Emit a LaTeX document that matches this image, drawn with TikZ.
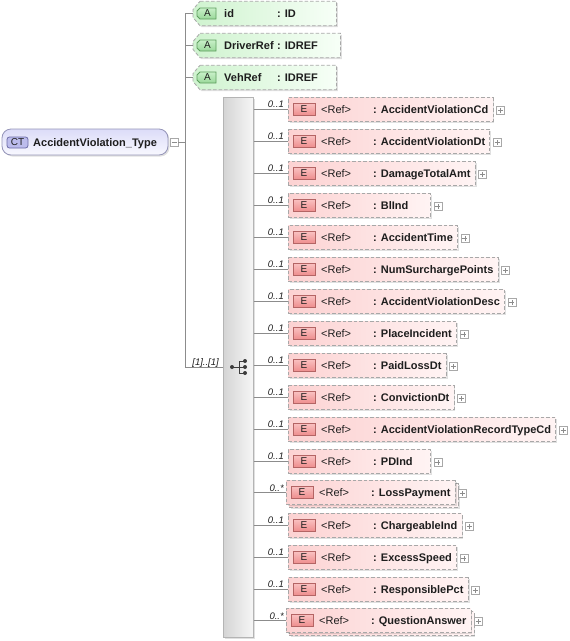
\documentclass[tikz,border=0pt]{standalone}
\usepackage{fontspec}
\setmainfont{Liberation Sans}
\usetikzlibrary{calc,shadows}
\pgfdeclarelayer{bg}
\pgfsetlayers{bg,main}
\definecolor{linec}{HTML}{8C8C8C}
\definecolor{boxline}{HTML}{A8A8A8}
\definecolor{elL}{HTML}{FCD2D2}
\definecolor{elR}{HTML}{FFF4F4}
\definecolor{atL}{HTML}{CFF3CF}
\definecolor{atR}{HTML}{F7FFF7}
\definecolor{ebT}{HTML}{F9C0C0}
\definecolor{ebB}{HTML}{EE8C8C}
\definecolor{ebD}{HTML}{B46464}
\definecolor{abT}{HTML}{C8F0C8}
\definecolor{abB}{HTML}{9AD89A}
\definecolor{abD}{HTML}{5E9E5E}
\definecolor{ctT}{HTML}{DCDCF8}
\definecolor{ctB}{HTML}{F8F8FF}
\definecolor{ctD}{HTML}{9494B8}
\definecolor{cbF}{HTML}{BCBCEC}
\definecolor{cbD}{HTML}{6A6AA6}
\definecolor{sqL}{HTML}{D4D4D4}
\definecolor{sqR}{HTML}{F6F6F6}
\definecolor{sqD}{HTML}{B4B4B4}
\definecolor{txtc}{HTML}{1E1E1E}
\definecolor{icon}{HTML}{3C3C3C}
\newcommand\mainsz{\fontsize{11}{13}\selectfont}
\begin{document}
\begin{tikzpicture}[x=1pt,y=-1pt,
  conn/.style={draw=linec, line width=0.8pt},
  txt/.style={inner sep=0pt, text=txtc, font=\mainsz},
  btxt/.style={inner sep=0pt, text=txtc, font=\mainsz\bfseries},
  mult/.style={inner sep=0pt, text=txtc, font=\fontsize{9.5}{11}\selectfont\itshape},
  softshadow/.style={drop shadow={shadow xshift=1.5pt, shadow yshift=-1.5pt, fill=black, opacity=0.12}},
  elbox/.style={draw=boxline, line width=0.8pt, dash pattern=on 3.5pt off 2pt,
     left color=elL, right color=elR, minimum height=24pt, inner sep=0pt, anchor=west, softshadow},
  ebadge/.style={draw=ebD, line width=0.8pt, top color=ebT, bottom color=ebB,
     minimum width=22pt, minimum height=12pt, inner sep=0pt, text=txtc,
     font=\fontsize{10}{11}\selectfont},
  attrarea/.style={minimum height=24pt, inner sep=0pt, anchor=west},
  attrshape/.style={draw=boxline, line width=0.8pt, dash pattern=on 3.5pt off 2pt,
     left color=atL, right color=atR, softshadow},
  abadge/.style={draw=abD, line width=0.8pt, top color=abT, bottom color=abB},
  plusbox/.style={draw=boxline, fill=white, line width=0.6pt, minimum size=8pt, inner sep=0pt},
  pm/.style={draw=linec, line width=0.6pt},
  seqbar/.style={draw=sqD, line width=1pt, left color=sqL, right color=sqR,
     minimum width=30pt, minimum height=540pt, inner sep=0pt, softshadow},
]
\useasboundingbox (0,0) rectangle (570,641);

% ---------- complex type ----------
\node[draw=ctD, line width=0.8pt, rounded corners=9pt, top color=ctT, bottom color=ctB,
      minimum width=166pt, minimum height=26pt, inner sep=0pt, softshadow] (ct) at (85,142) {};
\node[draw=cbD, line width=0.8pt, fill=cbF, rounded corners=2.5pt, minimum width=21pt,
      minimum height=11pt, inner sep=0pt, text=txtc, font=\fontsize{10}{11}\selectfont] (ctb) at (17.5,142.5) {CT};
\node[btxt, anchor=base west] (ctn) at (33,146) {AccidentViolation\_Type};
\node[plusbox] (ctm) at (174,142) {};
\draw[pm] ($(ctm.center)+(-2.5,0)$) -- ($(ctm.center)+(2.5,0)$);

% ---------- trunk ----------
\coordinate (tTop) at (185,13.5);
\coordinate (tBot) at (185,367);
\draw[conn] (tTop) -- (tBot);
\draw[conn] (ctm.east) -- (ctm.east -| tTop);

% ---------- attributes ----------
\foreach \an/\at/\ar [count=\i from 0] in {id/{: ID}/336, DriverRef/{: IDREF}/340, VehRef/{: IDREF}/336}{
  \pgfmathsetmacro\yc{13.5+32*\i}
  \pgfmathsetmacro\aw{\ar-193}
  \node[attrarea, minimum width=\aw] (at\i) at (193,\yc) {};
  \path[attrshape] ($(at\i.north west)+(7,0)$) -- (at\i.north east) -- (at\i.south east)
     -- ($(at\i.south west)+(7,0)$) -- ($(at\i.west)+(0,4)$) -- ($(at\i.west)+(0,-4)$) -- cycle;
  \path[abadge] (200,\yc-5.5) -- (216,\yc-5.5) -- (216,\yc+5.5) -- (200,\yc+5.5)
     -- (197,\yc+2.5) -- (197,\yc-2.5) -- cycle;
  \node[txt, font=\fontsize{10}{11}\selectfont] (ab\i) at (207.5,\yc) {A};
  \node[btxt, anchor=base west] (an\i) at (224,\yc+4) {\an};
  \node[btxt, anchor=base west] (aty\i) at (277,\yc+4) {\at};
  \draw[conn] (at\i.west -| tTop) -- (at\i.west);
}

% ---------- sequence ----------
\node[seqbar] (seq) at (238,367) {};
\draw[conn] (tBot) -- (seq.west);
\node[mult, anchor=base east] (seqm) at (219,365) {[1]..[1]};
\draw[icon, line width=0.9pt] (232,367) -- (239,367) (239,361) -- (239,373)
   (239,361) -- (245,361) (239,367) -- (245,367) (239,373) -- (245,373);
\fill[icon] (232,367) circle (2pt);
\fill[icon] (245,361) circle (2pt);
\fill[icon] (245,367) circle (2pt);
\fill[icon] (245,373) circle (2pt);

% ---------- elements ----------
\foreach \nm/\m/\s [count=\i from 0] in {
  AccidentViolationCd/0..1/0, AccidentViolationDt/0..1/0, DamageTotalAmt/0..1/0,
  BlInd/0..1/0, AccidentTime/0..1/0, NumSurchargePoints/0..1/0,
  AccidentViolationDesc/0..1/0, PlaceIncident/0..1/0, PaidLossDt/0..1/0,
  ConvictionDt/0..1/0, AccidentViolationRecordTypeCd/0..1/0, PDInd/0..1/0,
  LossPayment/0..*/1, ChargeableInd/0..1/0, ExcessSpeed/0..1/0,
  ResponsiblePct/0..1/0, QuestionAnswer/0..*/1}{
  \pgfmathsetmacro\yc{109.5+32*\i}
  \ifnum\s=1 \def\dx{-2}\def\dy{-1}\else \def\dx{0}\def\dy{0}\fi
  \node[txt, anchor=base west] (er\i) at (321+\dx,\yc+\dy+4) {<Ref>};
  \node[btxt, anchor=base west] (en\i) at (373+\dx,\yc+\dy+4) {: \nm};
  \begin{pgfonlayer}{bg}
    \ifnum\s=1
      \path let \p1=(en\i.east), \n1={max(142,\x1+4-286)} in
        node[elbox, minimum width=\n1] (eb\i) at (289,\yc+2) {}
        node[elbox, minimum width=\n1] (e\i) at (286,\yc-1) {};
    \else
      \path let \p1=(en\i.east), \n1={max(142,\x1+4-288)} in
        node[elbox, minimum width=\n1] (e\i) at (288,\yc) {};
    \fi
  \end{pgfonlayer}
  \node[ebadge] (eg\i) at (304+\dx,\yc+\dy) {E};
  \node[plusbox] (ep\i) at ($(e\i.east)+(7,1)$) {};
  \draw[pm] ($(ep\i.center)+(-2.5,0)$) -- ($(ep\i.center)+(2.5,0)$)
            ($(ep\i.center)+(0,-2.5)$) -- ($(ep\i.center)+(0,2.5)$);
  \node[mult, anchor=base east] (em\i) at (284,\yc-2) {\m};
  \draw[conn] (seq.east |- e\i.west) -- (e\i.west);
}
\end{tikzpicture}
\end{document}
